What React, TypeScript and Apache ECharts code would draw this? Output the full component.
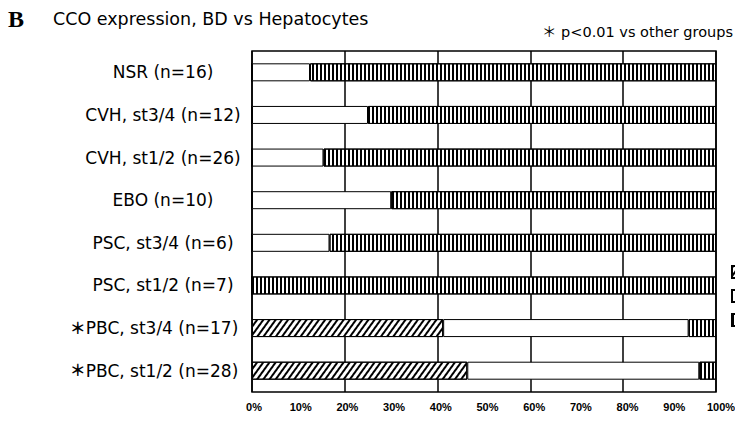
import React, { useEffect, useRef } from "react";
import * as echarts from "echarts";

const categories = [
  "NSR (n=16)",
  "CVH, st3/4 (n=12)",
  "CVH, st1/2 (n=26)",
  "EBO (n=10)",
  "PSC, st3/4 (n=6)",
  "PSC, st1/2 (n=7)",
  "＊PBC, st3/4 (n=17)",
  "＊PBC, st1/2 (n=28)",
];
const seriesNames = ["BD < Hep", "BD = Hep", "BD > Hep"];
const hatchedValues = [0, 0, 0, 0, 0, 0, 41.2, 46.4];
const whiteValues = [12.5, 25, 15.4, 30, 16.7, 0, 52.9, 50.0];
const stripedValues = [87.5, 75, 84.6, 70, 83.3, 100, 5.9, 3.6];
const tickLabels = ["0%", "10%", "20%", "30%", "40%", "50%", "60%", "70%", "80%", "90%", "100%"];

const SANS = "'DejaVu Sans', 'Noto Sans CJK JP', sans-serif";

export default function App() {
  const ref = useRef<HTMLDivElement>(null);
  useEffect(() => {
    if (!ref.current) return;
    const chart = echarts.init(ref.current, null, { renderer: "svg" });
    const stripeDecal = {
      symbol: "rect",
      symbolSize: 1,
      symbolKeepAspect: false,
      color: "#000",
      dashArrayX: [1.7, 1.3],
      dashArrayY: [20, 0],
      rotation: 0,
    };
    const hatchDecal = {
      symbol: "rect",
      symbolSize: 1,
      symbolKeepAspect: false,
      color: "#000",
      dashArrayX: [1.7, 3.0],
      dashArrayY: [20, 0],
      rotation: Math.PI / 5,
    };
    const barBase = {
      type: "bar",
      stack: "total",
      barWidth: 18,
      xAxisIndex: 0,
      yAxisIndex: 0,
    };
    chart.setOption({
      animation: false,
      backgroundColor: "#fff",
      graphic: [
        {
          type: "text",
          left: 8,
          top: 7,
          style: { text: "B", font: "bold 24px 'Liberation Serif', serif", fill: "#000" },
        },
        {
          type: "text",
          left: 53,
          top: 10,
          style: { text: "CCO expression, BD vs Hepatocytes", font: `17.5px ${SANS}`, fill: "#000" },
        },
        {
          type: "text",
          right: 2,
          top: 25,
          style: { text: "＊ p<0.01 vs other groups", font: `14.5px ${SANS}`, fill: "#000" },
        },
      ],
      legend: {
        orient: "vertical",
        left: 726,
        top: 260,
        icon: "rect",
        itemWidth: 10,
        itemHeight: 12,
        itemGap: 10,
        data: seriesNames,
        formatter: () => "",
        textStyle: { fontFamily: SANS, fontSize: 12, color: "#000" },
      },
      grid: [
        {
          left: 252,
          right: 19,
          top: 51,
          bottom: 33,
          show: true,
          borderColor: "#000",
          borderWidth: 1.5,
          backgroundColor: "transparent",
          outerBoundsMode: "none",
        },
        { left: 254, right: 14, top: 51, bottom: 33, show: false, outerBoundsMode: "none" },
      ],
      xAxis: [
        {
          type: "value",
          gridIndex: 0,
          min: 0,
          max: 100,
          interval: 20,
          axisLine: { show: false },
          axisTick: { show: false },
          axisLabel: { show: false },
          splitLine: { show: true, lineStyle: { color: "#000", width: 1.5 } },
        },
        {
          type: "value",
          gridIndex: 1,
          min: 0,
          max: 100,
          interval: 10,
          axisLine: { show: false },
          axisTick: { show: false },
          splitLine: { show: false },
          axisLabel: {
            margin: 9,
            formatter: (v: number) => tickLabels[Math.round(v / 10)],
            fontFamily: "'Liberation Sans', Arial, sans-serif",
            fontWeight: "bold",
            fontSize: 11,
            color: "#000",
          },
        },
      ],
      yAxis: [
        {
          type: "category",
          gridIndex: 0,
          inverse: true,
          data: categories,
          axisLine: { show: false },
          axisTick: { show: false },
          axisLabel: {
            margin: 89,
            align: "center",
            color: "#000",
            fontFamily: SANS,
            fontSize: 17,
            formatter: (v: string) =>
              v.startsWith("＊") ? `{s|＊}{t|${v.slice(1)}}{e|}` : `{t|${v}}`,
            rich: {
              s: { fontFamily: SANS, fontSize: 16, color: "#000", fontWeight: "bold" },
              t: { fontFamily: SANS, fontSize: 17, color: "#000" },
              e: { width: 18 },
            },
          },
        },
        {
          type: "category",
          gridIndex: 1,
          data: categories,
          show: false,
        },
      ],
      series: [
        {
          ...barBase,
          name: seriesNames[0],
          data: hatchedValues,
          itemStyle: { color: "#fff", borderColor: "#000", borderWidth: 1, decal: hatchDecal },
        },
        {
          ...barBase,
          name: seriesNames[1],
          data: whiteValues,
          itemStyle: { color: "#fff", borderColor: "#000", borderWidth: 1 },
        },
        {
          ...barBase,
          name: seriesNames[2],
          data: stripedValues,
          itemStyle: { color: "#fff", borderColor: "#000", borderWidth: 1, decal: stripeDecal },
        },
      ],
    });
    return () => chart.dispose();
  }, []);
  return <div ref={ref} style={{ width: 735, height: 425, position: "absolute", left: 0, top: 0 }} />;
}
